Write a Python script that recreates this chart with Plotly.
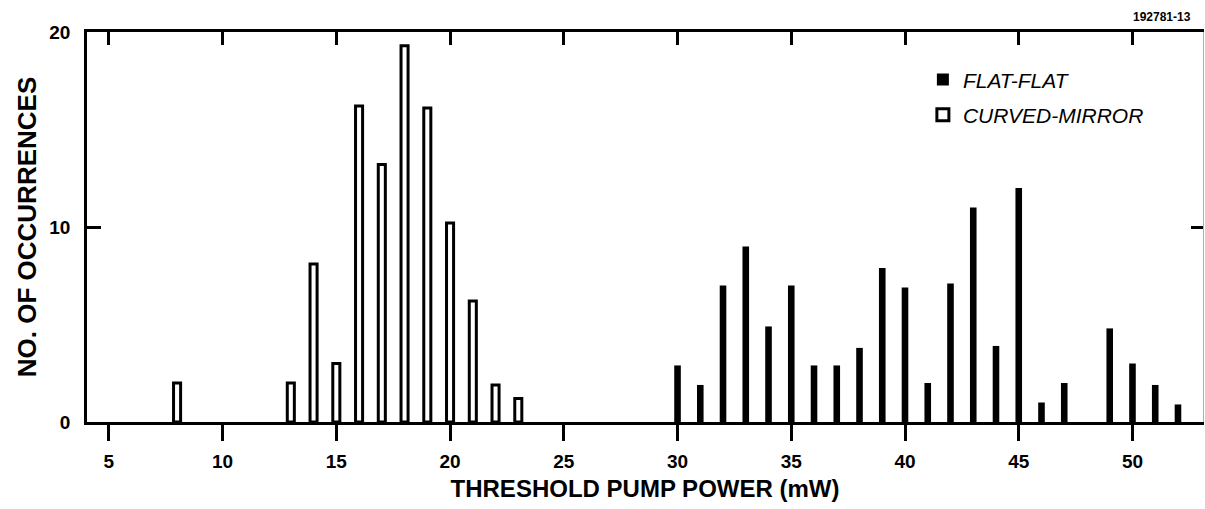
import plotly.graph_objects as go

# Curved-mirror resonator (hollow bars)
curved_power = [8, 13, 14, 15, 16, 17, 18, 19, 20, 21, 22, 23]
curved_count = [2, 2, 8.1, 3, 16.2, 13.2, 19.3, 16.1, 10.2, 6.2, 1.9, 1.2]

# Flat-flat resonator (solid bars)
flat_power = [30, 31, 32, 33, 34, 35, 36, 37, 38, 39, 40, 41, 42, 43, 44, 45, 46, 47, 49, 50, 51, 52]
flat_count = [2.9, 1.9, 7, 9, 4.9, 7, 2.9, 2.9, 3.8, 7.9, 6.9, 2, 7.1, 11, 3.9, 12, 1, 2, 4.8, 3, 1.9, 0.9]

x_ticks = [5, 10, 15, 20, 25, 30, 35, 40, 45, 50]
y_ticks = [0, 10, 20]
x_range = [4.04, 53.1]
y_range = [0, 20]

FONT = "Liberation Sans, Arial, Helvetica, sans-serif"

fig = go.Figure()

fig.add_trace(go.Bar(
    x=flat_power, y=flat_count, name="FLAT-FLAT", width=0.29,
    marker=dict(color="black", line=dict(width=0)),
    legend="legend",
))
fig.add_trace(go.Bar(
    x=curved_power, y=curved_count, name="CURVED-MIRROR", width=0.31,
    marker=dict(color="white", line=dict(color="black", width=3)),
    legend="legend2",
))
# helper traces to attach the top and right frame axes
fig.add_trace(go.Scatter(x=[None], y=[None], xaxis="x2", yaxis="y",
                         showlegend=False, hoverinfo="skip"))
fig.add_trace(go.Scatter(x=[None], y=[None], xaxis="x", yaxis="y2",
                         showlegend=False, hoverinfo="skip"))

tickfont = dict(family=FONT, size=19, color="black", weight="bold")

fig.update_layout(
    width=1205, height=509,
    margin=dict(l=87, r=2, t=32, b=87),
    paper_bgcolor="white", plot_bgcolor="white",
    barmode="overlay",
    xaxis=dict(
        range=x_range, tickvals=x_ticks, ticktext=[str(v) for v in x_ticks],
        ticks="outside", ticklen=16, tickwidth=3, tickcolor="black",
        showline=True, linewidth=3, linecolor="black",
        showgrid=False, zeroline=False, tickfont=tickfont,
        ticklabelstandoff=4,
        title=dict(text="THRESHOLD PUMP POWER (mW)",
                   font=dict(family=FONT, size=24, color="black", weight="bold"),
                   standoff=10),
    ),
    xaxis2=dict(
        range=x_range, tickvals=x_ticks, overlaying="x", side="top", anchor="y",
        ticks="inside", ticklen=13, tickwidth=3, tickcolor="black",
        showline=True, linewidth=3, linecolor="black",
        showgrid=False, zeroline=False, showticklabels=False,
    ),
    yaxis=dict(
        range=y_range, tickvals=y_ticks,
        ticks="inside", ticklen=14, tickwidth=2.5, tickcolor="black",
        showline=True, linewidth=2.5, linecolor="black",
        showgrid=False, zeroline=False, tickfont=tickfont,
        ticklabelstandoff=10,
        title=dict(text="NO. OF OCCURRENCES",
                   font=dict(family=FONT, size=26, color="black", weight="bold"),
                   standoff=6),
    ),
    yaxis2=dict(
        range=y_range, tickvals=[10], overlaying="y", side="right", anchor="x",
        ticks="inside", ticklen=12, tickwidth=2.5, tickcolor="black",
        showline=True, linewidth=1, linecolor="#b0b0b0",
        showgrid=False, zeroline=False, showticklabels=False,
    ),
    legend=dict(
        x=0.749, y=0.877, xanchor="left", yanchor="middle",
        bgcolor="rgba(0,0,0,0)", borderwidth=0,
        font=dict(family=FONT, size=21, color="black", style="italic"),
    ),
    legend2=dict(
        x=0.749, y=0.787, xanchor="left", yanchor="middle",
        bgcolor="rgba(0,0,0,0)", borderwidth=0,
        font=dict(family=FONT, size=21, color="black", style="italic"),
    ),
    annotations=[dict(
        text="192781-13", xref="paper", yref="paper", x=0.991, y=1.0385,
        xanchor="right", yanchor="middle", showarrow=False,
        font=dict(family=FONT, size=12, color="black", weight="bold"),
    )],
)

fig.write_html("out.html")
